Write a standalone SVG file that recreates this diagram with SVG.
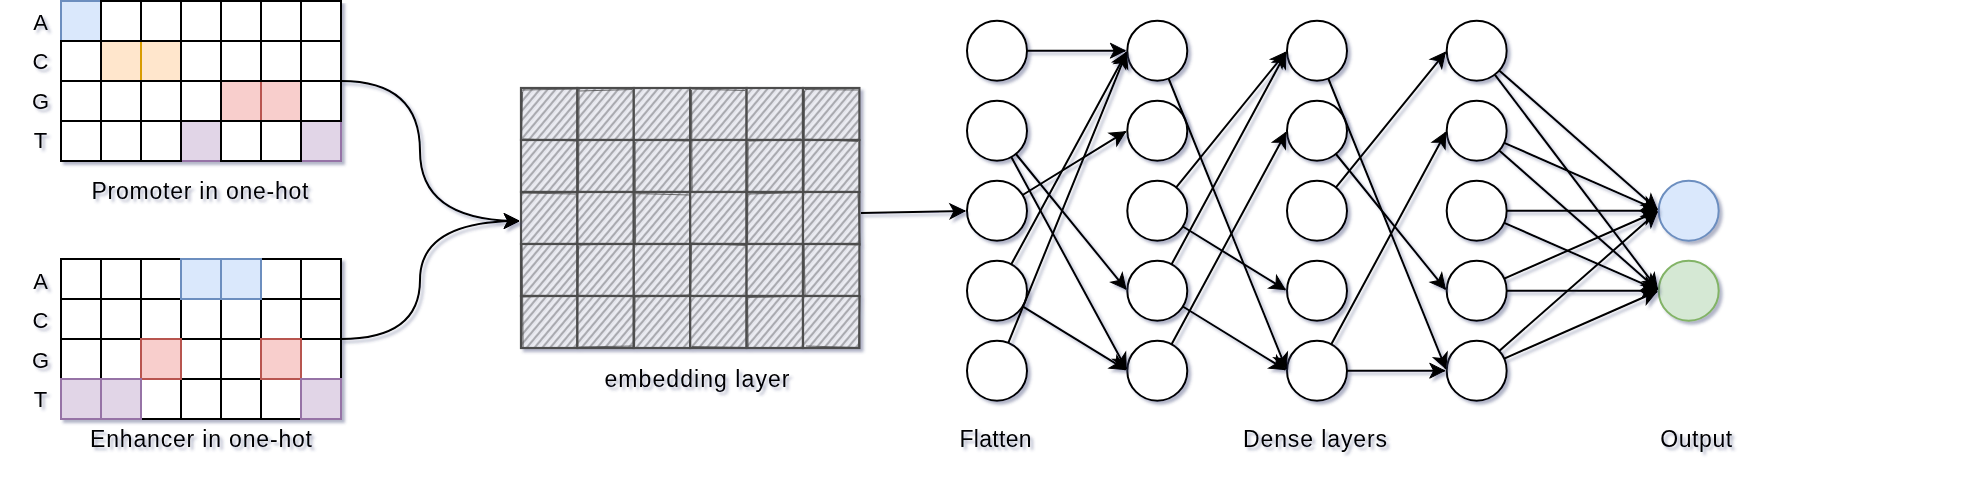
<svg xmlns="http://www.w3.org/2000/svg" width="1970" height="484" viewBox="0 0 1970 484">
<style>
.t{font-family:"Liberation Sans",Arial,Helvetica,sans-serif;font-size:23px;fill:#000}
.l{font-family:"Liberation Sans",Arial,Helvetica,sans-serif;font-size:22px;fill:#000;text-anchor:middle}
.w{fill:#fff;stroke:#000;stroke-width:2}
.b{fill:#dae8fc;stroke:#6c8ebf;stroke-width:2}
.o{fill:#ffe6cc;stroke:#d79b00;stroke-width:2}
.r{fill:#f8cecc;stroke:#b85450;stroke-width:2}
.p{fill:#e1d5e7;stroke:#9673a6;stroke-width:2}
.em{fill:url(#hatch);stroke:#4d4d4d;stroke-width:2.2}
.em2{fill:none;stroke:#4d4d4d;stroke-width:1.2;opacity:.8}
.n{fill:#fff;stroke:#000;stroke-width:2}
.e{fill:none;stroke:#000;stroke-width:2;marker-end:url(#arr)}
</style>
<defs>
<filter id="shadow" filterUnits="userSpaceOnUse" x="0" y="0" width="1970" height="484">
<feGaussianBlur in="SourceAlpha" stdDeviation="1.7" result="blur"/>
<feOffset in="blur" dx="3" dy="3" result="ob"/>
<feFlood flood-color="#3D4574" flood-opacity="0.4"/>
<feComposite in2="ob" operator="in" result="sh"/>
<feMerge><feMergeNode in="sh"/><feMergeNode in="SourceGraphic"/></feMerge>
</filter>
<pattern id="hatch" patternUnits="userSpaceOnUse" width="6" height="6" patternTransform="rotate(40)">
<rect width="6" height="6" fill="#e4e5ec"/>
<line x1="3" y1="-1" x2="3" y2="8" stroke="#8a8a8f" stroke-width="1.3"/>
<line x1="0.2" y1="-1" x2="0.2" y2="8" stroke="#f6f6f9" stroke-width="0.9"/>
</pattern>
<marker id="arr" viewBox="-17 -9 18 18" markerWidth="18" markerHeight="18" refX="0" refY="0" orient="auto" markerUnits="userSpaceOnUse" overflow="visible">
<path d="M0,0 L-15,-7.5 L-11,0 L-15,7.5 Z" fill="#000" stroke="#000" stroke-width="1"/>
</marker>
</defs>
<rect width="1970" height="484" fill="#fff"/>

<g id="promoter" filter="url(#shadow)">
<rect class="b" x="61" y="1" width="40" height="40"/>
<rect class="o" x="101" y="41" width="40" height="40"/>
<rect class="o" x="141" y="41" width="40" height="40"/>
<rect class="r" x="221" y="81" width="40" height="40"/>
<rect class="r" x="261" y="81" width="40" height="40"/>
<rect class="p" x="181" y="121" width="40" height="40"/>
<rect class="p" x="301" y="121" width="40" height="40"/>
<rect class="w" x="101" y="1" width="40" height="40"/>
<rect class="w" x="141" y="1" width="40" height="40"/>
<rect class="w" x="181" y="1" width="40" height="40"/>
<rect class="w" x="221" y="1" width="40" height="40"/>
<rect class="w" x="261" y="1" width="40" height="40"/>
<rect class="w" x="301" y="1" width="40" height="40"/>
<rect class="w" x="61" y="41" width="40" height="40"/>
<rect class="w" x="181" y="41" width="40" height="40"/>
<rect class="w" x="221" y="41" width="40" height="40"/>
<rect class="w" x="261" y="41" width="40" height="40"/>
<rect class="w" x="301" y="41" width="40" height="40"/>
<rect class="w" x="61" y="81" width="40" height="40"/>
<rect class="w" x="101" y="81" width="40" height="40"/>
<rect class="w" x="141" y="81" width="40" height="40"/>
<rect class="w" x="181" y="81" width="40" height="40"/>
<rect class="w" x="301" y="81" width="40" height="40"/>
<rect class="w" x="61" y="121" width="40" height="40"/>
<rect class="w" x="101" y="121" width="40" height="40"/>
<rect class="w" x="141" y="121" width="40" height="40"/>
<rect class="w" x="221" y="121" width="40" height="40"/>
<rect class="w" x="261" y="121" width="40" height="40"/>
<text class="l" x="40.5" y="29.5">A</text>
<text class="l" x="40.5" y="68.5">C</text>
<text class="l" x="40.5" y="108.5">G</text>
<text class="l" x="40.5" y="148">T</text>
<text class="t" x="200" y="198.5" text-anchor="middle" textLength="217" lengthAdjust="spacing">Promoter in one-hot</text>
</g>

<g id="enhancer" filter="url(#shadow)">
<rect class="w" x="61" y="259" width="40" height="40"/>
<rect class="w" x="101" y="259" width="40" height="40"/>
<rect class="w" x="141" y="259" width="40" height="40"/>
<rect class="w" x="261" y="259" width="40" height="40"/>
<rect class="w" x="301" y="259" width="40" height="40"/>
<rect class="w" x="61" y="299" width="40" height="40"/>
<rect class="w" x="101" y="299" width="40" height="40"/>
<rect class="w" x="141" y="299" width="40" height="40"/>
<rect class="w" x="181" y="299" width="40" height="40"/>
<rect class="w" x="221" y="299" width="40" height="40"/>
<rect class="w" x="261" y="299" width="40" height="40"/>
<rect class="w" x="301" y="299" width="40" height="40"/>
<rect class="w" x="61" y="339" width="40" height="40"/>
<rect class="w" x="101" y="339" width="40" height="40"/>
<rect class="w" x="181" y="339" width="40" height="40"/>
<rect class="w" x="221" y="339" width="40" height="40"/>
<rect class="w" x="301" y="339" width="40" height="40"/>
<rect class="w" x="141" y="379" width="40" height="40"/>
<rect class="w" x="181" y="379" width="40" height="40"/>
<rect class="w" x="221" y="379" width="40" height="40"/>
<rect class="w" x="261" y="379" width="40" height="40"/>
<rect class="b" x="181" y="259" width="40" height="40"/>
<rect class="b" x="221" y="259" width="40" height="40"/>
<rect class="r" x="141" y="339" width="40" height="40"/>
<rect class="r" x="261" y="339" width="40" height="40"/>
<rect class="p" x="61" y="379" width="40" height="40"/>
<rect class="p" x="101" y="379" width="40" height="40"/>
<rect class="p" x="301" y="379" width="40" height="40"/>
<text class="l" x="40.5" y="288.5">A</text>
<text class="l" x="40.5" y="327.5">C</text>
<text class="l" x="40.5" y="367.5">G</text>
<text class="l" x="40.5" y="407">T</text>
<text class="t" x="201" y="446.5" text-anchor="middle" textLength="222" lengthAdjust="spacing">Enhancer in one-hot</text>
</g>

<g id="embedding" filter="url(#shadow)">
<rect class="em" x="521" y="88" width="56.4" height="52"/><rect class="em" x="577.4" y="88" width="56.4" height="52"/><rect class="em" x="633.8" y="88" width="56.4" height="52"/><rect class="em" x="690.2" y="88" width="56.4" height="52"/><rect class="em" x="746.6" y="88" width="56.4" height="52"/><rect class="em" x="803" y="88" width="56.4" height="52"/>
<rect class="em" x="521" y="140" width="56.4" height="52"/><rect class="em" x="577.4" y="140" width="56.4" height="52"/><rect class="em" x="633.8" y="140" width="56.4" height="52"/><rect class="em" x="690.2" y="140" width="56.4" height="52"/><rect class="em" x="746.6" y="140" width="56.4" height="52"/><rect class="em" x="803" y="140" width="56.4" height="52"/>
<rect class="em" x="521" y="192" width="56.4" height="52"/><rect class="em" x="577.4" y="192" width="56.4" height="52"/><rect class="em" x="633.8" y="192" width="56.4" height="52"/><rect class="em" x="690.2" y="192" width="56.4" height="52"/><rect class="em" x="746.6" y="192" width="56.4" height="52"/><rect class="em" x="803" y="192" width="56.4" height="52"/>
<rect class="em" x="521" y="244" width="56.4" height="52"/><rect class="em" x="577.4" y="244" width="56.4" height="52"/><rect class="em" x="633.8" y="244" width="56.4" height="52"/><rect class="em" x="690.2" y="244" width="56.4" height="52"/><rect class="em" x="746.6" y="244" width="56.4" height="52"/><rect class="em" x="803" y="244" width="56.4" height="52"/>
<rect class="em" x="521" y="296" width="56.4" height="52"/><rect class="em" x="577.4" y="296" width="56.4" height="52"/><rect class="em" x="633.8" y="296" width="56.4" height="52"/><rect class="em" x="690.2" y="296" width="56.4" height="52"/><rect class="em" x="746.6" y="296" width="56.4" height="52"/><rect class="em" x="803" y="296" width="56.4" height="52"/>
<path class="em2" d="M522.5,90 L576,89 M523,139 L578,141 M579,91 L632,89.5 M636,139.5 L689,141 M692,89 L745,90.5 M748,141 L801,139 M805,89.5 L858,90 M804,139 L858,141.5 M520,193 L576,194 M578,245 L633,243.5 M635,193.5 L690,195 M691,243 L746,245.5 M748,194 L802,192.5 M804,243.5 L858,245 M522,297 L576,295.5 M579,347 L633,346 M635,297 L689,295 M692,346.5 L745,347.5 M748,297.5 L802,296 M806,346 L857,347.5 M522.5,92 L521.5,139 M579,89 L578.5,191 M635,142 L635.5,244 M691.5,90 L692,192 M748,142 L747.5,243 M804.5,91 L804,193 M858,192 L860,246 M522,245 L523,347 M578.5,246 L577,347 M635,296 L634.5,347 M691.5,245 L690.5,296 M747.5,297 L748,347 M804,244 L805,296 M860,296 L858.5,347"/>
<text class="t" x="697" y="387" text-anchor="middle" textLength="185" lengthAdjust="spacing">embedding layer</text>
</g>

<g id="flatten" filter="url(#shadow)">
<g id="f1"><circle class="n" cx="997" cy="50.7" r="30"/></g>
<g id="f2"><circle class="n" cx="997" cy="130.7" r="30"/></g>
<g id="f3"><circle class="n" cx="997" cy="210.7" r="30"/></g>
<g id="f4"><circle class="n" cx="997" cy="290.7" r="30"/></g>
<g id="f5"><circle class="n" cx="997" cy="370.7" r="30"/></g>
<text class="t" x="995.5" y="447" text-anchor="middle" textLength="72" lengthAdjust="spacing">Flatten</text>
</g>

<g id="dense1" filter="url(#shadow)">
<g id="d1"><circle class="n" cx="1157.3" cy="50.7" r="30"/></g>
<g id="d2"><circle class="n" cx="1157.3" cy="130.7" r="30"/></g>
<g id="d3"><circle class="n" cx="1157.3" cy="210.7" r="30"/></g>
<g id="d4"><circle class="n" cx="1157.3" cy="290.7" r="30"/></g>
<g id="d5"><circle class="n" cx="1157.3" cy="370.7" r="30"/></g>
</g>

<g id="dense2" filter="url(#shadow)">
<g id="e1"><circle class="n" cx="1317" cy="50.7" r="30"/></g>
<g id="e2"><circle class="n" cx="1317" cy="130.7" r="30"/></g>
<g id="e3"><circle class="n" cx="1317" cy="210.7" r="30"/></g>
<g id="e4"><circle class="n" cx="1317" cy="290.7" r="30"/></g>
<g id="e5"><circle class="n" cx="1317" cy="370.7" r="30"/></g>
<text class="t" x="1315" y="447" text-anchor="middle" textLength="144" lengthAdjust="spacing">Dense layers</text>
</g>

<g id="dense3" filter="url(#shadow)">
<g id="g1"><circle class="n" cx="1476.7" cy="50.7" r="30"/></g>
<g id="g2"><circle class="n" cx="1476.7" cy="130.7" r="30"/></g>
<g id="g3"><circle class="n" cx="1476.7" cy="210.7" r="30"/></g>
<g id="g4"><circle class="n" cx="1476.7" cy="290.7" r="30"/></g>
<g id="g5"><circle class="n" cx="1476.7" cy="370.7" r="30"/></g>
</g>

<g id="output" filter="url(#shadow)">
<g id="o1"><circle cx="1688.7" cy="210.7" r="30" fill="#dae8fc" stroke="#6c8ebf" stroke-width="2"/></g>
<g id="o2"><circle cx="1688.7" cy="290.7" r="30" fill="#d5e8d4" stroke="#82b366" stroke-width="2"/></g>
<text class="t" x="1696.2" y="446.7" text-anchor="middle" textLength="72" lengthAdjust="spacing">Output</text>
</g>

<g id="connectors" filter="url(#shadow)">
<path class="e" d="M341,81 Q420,81 420,151 Q420,221 519,221"/>
<path class="e" d="M341,339 Q420,339 420,280 Q420,221 519,221"/>
<path class="e" d="M861,213 L965,211"/>
<path class="e" d="M1027,50.7 L1125.3,50.7"/>
<path class="e" d="M1015.9,154 L1126,289.1"/>
<path class="e" d="M1011.3,157.1 L1126.3,368.9"/>
<path class="e" d="M1022.6,195 L1125.6,131.7"/>
<path class="e" d="M1011.3,264.3 L1126.3,52.5"/>
<path class="e" d="M1022.6,306.4 L1125.6,369.7"/>
<path class="e" d="M1008.3,342.9 L1126.5,52.6"/>
<path class="e" d="M1168.6,78.5 L1286.2,368.8"/>
<path class="e" d="M1176.2,187.4 L1285.7,52.3"/>
<path class="e" d="M1182.8,226.5 L1285.3,289.7"/>
<path class="e" d="M1171.6,264.3 L1286,52.5"/>
<path class="e" d="M1182.8,306.5 L1285.3,369.7"/>
<path class="e" d="M1171.6,344.3 L1286,132.5"/>
<path class="e" d="M1328.3,78.5 L1445.9,368.8"/>
<path class="e" d="M1335.9,154 L1445.4,289.1"/>
<path class="e" d="M1335.9,187.4 L1445.4,52.3"/>
<path class="e" d="M1331.3,344.3 L1445.7,132.5"/>
<path class="e" d="M1347,370.7 L1444.7,370.7"/>
<path class="e" d="M1499.2,70.5 L1657.2,209.4"/>
<path class="e" d="M1494.8,74.6 L1657.5,289.1"/>
<path class="e" d="M1504.2,142.8 L1656.9,209.9"/>
<path class="e" d="M1499.2,150.5 L1657.2,289.4"/>
<path class="e" d="M1506.7,210.7 L1656.7,210.7"/>
<path class="e" d="M1504.2,222.8 L1656.9,289.9"/>
<path class="e" d="M1504.2,278.6 L1656.9,211.5"/>
<path class="e" d="M1506.7,290.7 L1656.7,290.7"/>
<path class="e" d="M1499.2,350.9 L1657.2,212"/>
<path class="e" d="M1504.2,358.6 L1656.9,291.5"/>
</g>
</svg>
